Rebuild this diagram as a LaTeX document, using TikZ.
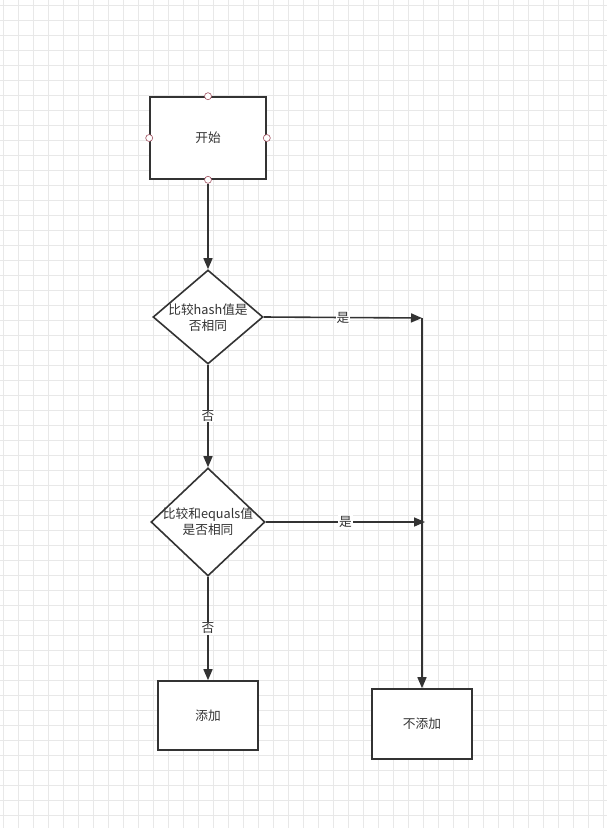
\documentclass[tikz,border=0pt]{standalone}
\usepackage{fontspec}
\newfontfamily\cjk{Noto Sans CJK SC}
\usetikzlibrary{shapes.geometric,arrows.meta}
\definecolor{ink}{HTML}{333333}
\definecolor{gridc}{HTML}{E8E8E8}
\definecolor{portc}{HTML}{A05060}
\tikzset{
  box/.style={draw=ink,line width=1.6pt,fill=white,minimum width=#1,inner sep=0pt},
  dia/.style={draw=ink,line width=1.6pt,fill=white,diamond,inner sep=0pt,minimum width=#1},
  txt/.style={font=\cjk\fontsize{12.7}{16}\selectfont,text=ink,align=center,inner sep=0pt},
  lbl/.style={font=\cjk\fontsize{12.7}{16}\selectfont,text=ink,fill=white,inner sep=1pt},
  conn/.style={draw=ink,line width=1.6pt,-{Triangle[length=11pt,width=9pt]}},
  plain/.style={draw=ink,line width=1.6pt},
  port/.style={circle,draw=portc,fill=white,line width=0.6pt,minimum size=7pt,inner sep=0pt}
}
\begin{document}
\begin{tikzpicture}[x=1pt,y=-1pt]
\useasboundingbox (0,0) rectangle (607,828);
\fill[white] (0,0) rectangle (607,828);
\foreach \gx in {3.3,18.3,...,607} \draw[gridc,line width=0.6pt] (\gx,0) -- (\gx,828);
\foreach \gy in {5,20,...,828} \draw[gridc,line width=0.6pt] (0,\gy) -- (607,\gy);
% boxes
\node[box=116pt,minimum height=82pt,txt] (start) at (208,138) {开始};
\node[box=100pt,minimum height=69pt,txt] (add) at (208,715.5) {添加};
\node[box=100pt,minimum height=70pt,txt] (noadd) at (422,724) {不添加};
% diamonds
\node[dia=110pt,minimum height=94pt] (d1) at (208,317) {};
\node[txt] (t1) at (208,318) {比较hash值是\\否相同};
\node[dia=114pt,minimum height=108pt] (d2) at (208,522) {};
\node[txt] (t2) at (208,522) {比较和equals值\\是否相同};
% ports
\node[port] (pt) at (start.north) {};
\node[port] (pb) at (start.south) {};
\node[port] (pl) at (start.west) {};
\node[port] (pr) at (start.east) {};
% coordinates
\coordinate (j1) at (422,318);
\coordinate (j2) at (425,522);
% connectors
\draw[conn] (pb.south) -- (d1.north);
\draw[conn] (d1.east) -- (j1) node[lbl,pos=0.5] (y1) {是};
\draw[conn] (j1) -- (noadd.north);
\draw[conn] (d1.south) -- (d2.north) node[lbl,pos=0.5] (n1) {否};
\draw[conn] (d2.east) -- (j2) node[lbl,pos=0.5] (y2) {是};
\draw[conn] (d2.south) -- (add.north) node[lbl,pos=0.5] (n2) {否};
\end{tikzpicture}
\end{document}
